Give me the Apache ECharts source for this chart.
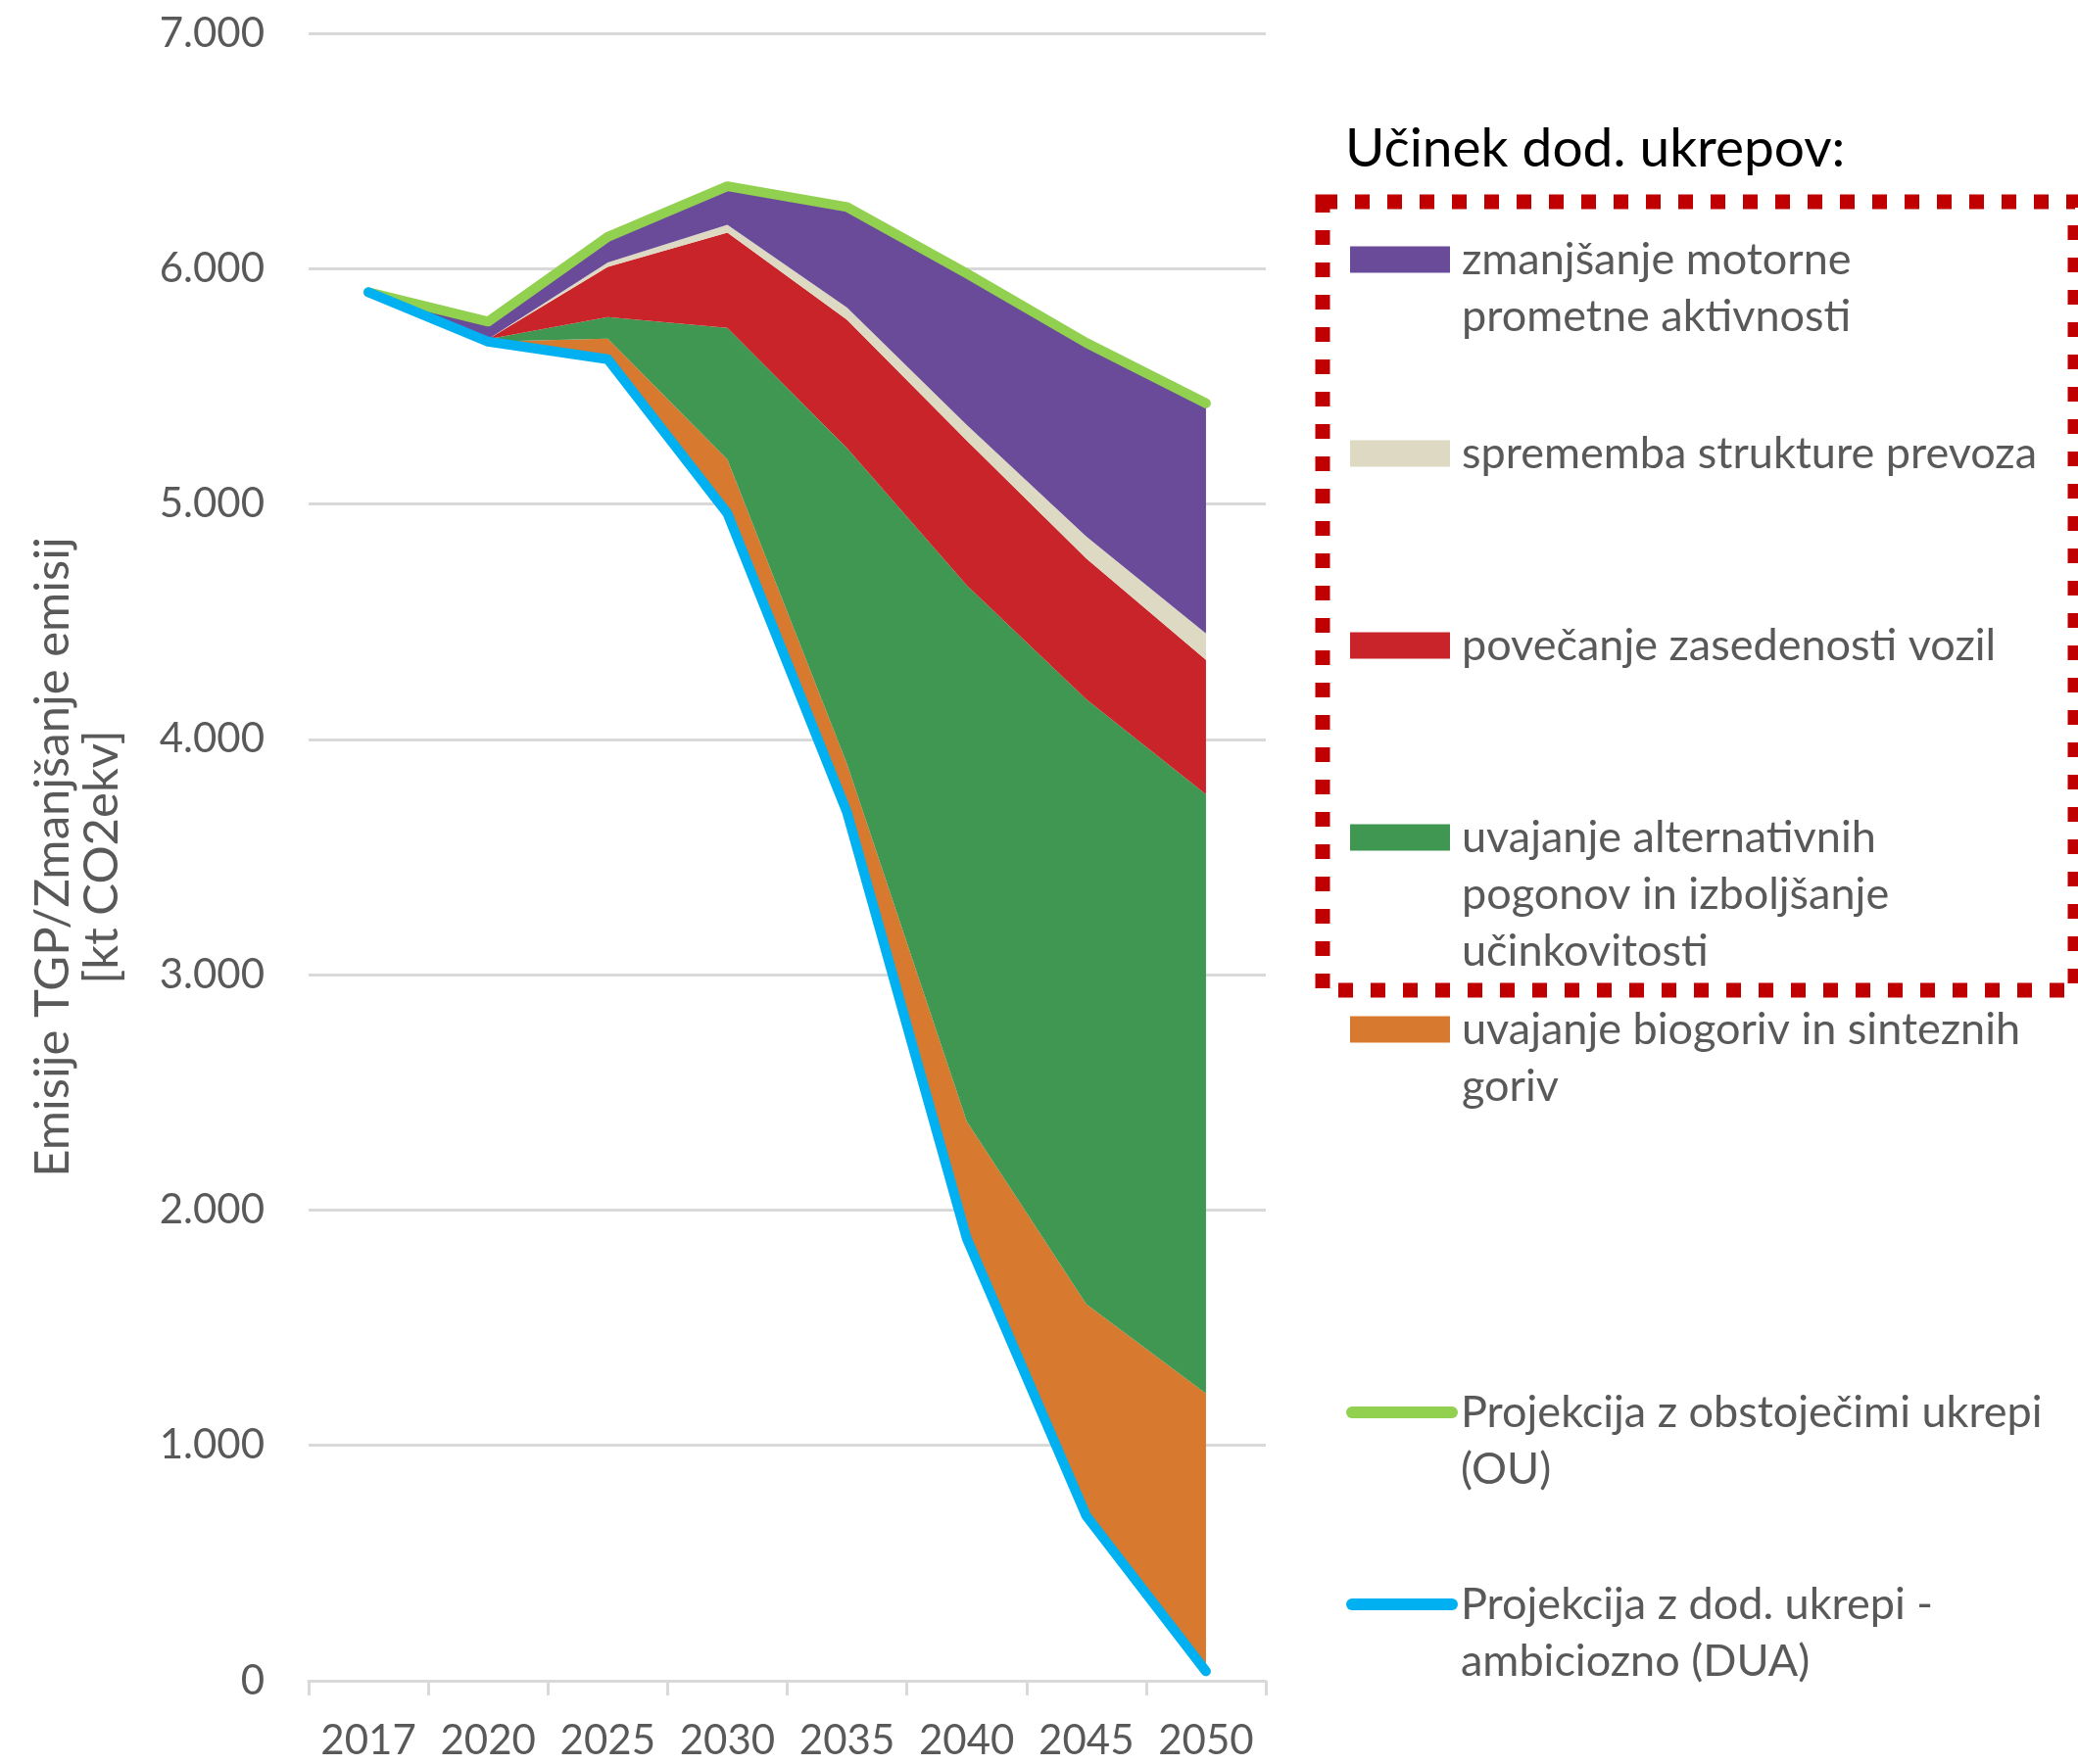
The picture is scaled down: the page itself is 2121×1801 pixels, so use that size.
<!DOCTYPE html>
<html>
<head>
<meta charset="utf-8">
<script src="https://cdn.jsdelivr.net/npm/echarts@6/dist/echarts.min.js"></script>
<style>
html,body{margin:0;padding:0;background:#fff;}
#chart{width:2121px;height:1801px;}
</style>
</head>
<body>
<div id="chart"></div>
<script>
// ---- data (kt CO2ekv) ----
const years = ['2017', '2020', '2025', '2030', '2035', '2040', '2045', '2050'];
// projection with additional measures - ambitious (DUA); also the base of the stacked effects
const dua = [5900, 5690, 5615, 4960, 3690, 1880, 700, 40];
// projection with existing measures (OU)
const ou = [5900, 5775, 6135, 6350, 6262, 5980, 5685, 5428];
// effects of additional measures (stacked on top of DUA)
const biogoriva = [0, 0, 88, 230, 205, 497, 900, 1180];
const alternativni = [0, 10, 91, 558, 1343, 2278, 2570, 2546];
const zasedenost = [0, 0, 213, 405, 545, 615, 598, 572];
const struktura = [0, 0, 19, 33, 52, 66, 94, 112];
const aktivnost = [0, 75, 109, 164, 427, 644, 823, 978];
const yTicks = [0, 1000, 2000, 3000, 4000, 5000, 6000, 7000];

const names = {
  akt: 'zmanjšanje motorne prometne aktivnosti',
  str: 'sprememba strukture prevoza',
  zas: 'povečanje zasedenosti vozil',
  alt: 'uvajanje alternativnih pogonov in izboljšanje učinkovitosti',
  bio: 'uvajanje biogoriv in sinteznih goriv',
  ou: 'Projekcija z obstoječimi ukrepi (OU)',
  dua: 'Projekcija z dod. ukrepi - ambiciozno (DUA)'
};
const legendLines = {};
legendLines[names.akt] = ['zmanjšanje motorne', 'prometne aktivnosti'];
legendLines[names.str] = ['sprememba strukture prevoza'];
legendLines[names.zas] = ['povečanje zasedenosti vozil'];
legendLines[names.alt] = ['uvajanje alternativnih', 'pogonov in izboljšanje', 'učinkovitosti'];
legendLines[names.bio] = ['uvajanje biogoriv in sinteznih', 'goriv'];
legendLines[names.ou] = ['Projekcija z obstoječimi ukrepi', '(OU)'];
legendLines[names.dua] = ['Projekcija z dod. ukrepi -', 'ambiciozno (DUA)'];

const FONT = 'Lato';
const GREY = '#595959';
const LH = 58;
const LFS = 45;

function area(name, data, color) {
  return {
    name: name, type: 'line', stack: 'eff', data: data,
    symbol: 'none', color: color,
    itemStyle: {color: color},
    lineStyle: {width: 0, color: color},
    areaStyle: {color: color, opacity: 1},
    silent: true, z: 2
  };
}

// legend text is centred on the icon; pad with empty lines above so the first line sits at the icon
function legendFor(name, centerY, isLine) {
  const lines = legendLines[name];
  const n = lines.length;
  const h = LH * (2 * n - 1);
  return {
    data: [isLine ? {name: name} : {name: name, icon: 'rect'}],
    left: isLine ? 1374 : 1378,
    top: centerY - h / 2,
    orient: 'vertical',
    padding: 0,
    selectedMode: false,
    itemWidth: 102,
    itemHeight: isLine ? 12 : 27,
    lineStyle: isLine ? {width: 12, cap: 'round'} : undefined,
    formatter: function (nm) {
      const l = legendLines[nm];
      return new Array(l.length - 1).fill(' ').concat(l).join('\n');
    },
    textStyle: {
      fontFamily: FONT, fontSize: LFS, color: GREY, lineHeight: LH,
      padding: [0, 0, 0, isLine ? 4 : 7]
    }
  };
}

const chart = echarts.init(document.getElementById('chart'), null, {renderer: 'canvas'});
chart.setOption({
  animation: false,
  backgroundColor: '#ffffff',
  textStyle: {fontFamily: FONT},
  title: {
    text: 'Učinek dod. ukrepov:',
    left: 1373, top: 119,
    padding: 0,
    textStyle: {fontFamily: FONT, fontSize: 55, fontWeight: 'normal', color: '#000000', lineHeight: 66}
  },
  grid: {left: 315, right: 829, top: 34, bottom: 85, containLabel: false},
  xAxis: {
    type: 'category', data: years, boundaryGap: true,
    axisLine: {lineStyle: {color: '#D9D9D9', width: 3}},
    axisTick: {show: true, interval: 0, length: 15, lineStyle: {color: '#D9D9D9', width: 3}},
    axisLabel: {interval: 0, fontFamily: FONT, fontSize: 42, color: GREY, margin: 40}
  },
  yAxis: {
    type: 'value', min: yTicks[0], max: yTicks[yTicks.length - 1], interval: 1000,
    name: 'Emisije TGP/Zmanjšanje emisij\n[kt CO2ekv]',
    nameLocation: 'middle', nameGap: 186,
    nameTextStyle: {fontFamily: FONT, fontSize: 49, color: GREY, lineHeight: 50},
    axisLine: {show: false}, axisTick: {show: false},
    splitLine: {lineStyle: {color: '#D9D9D9', width: 3}},
    axisLabel: {
      fontFamily: FONT, fontSize: 42, color: GREY, margin: 45,
      formatter: function (v) { return v === 0 ? '0' : String(v).replace(/\B(?=(\d{3})+(?!\d))/g, '.'); }
    }
  },
  legend: [
    legendFor(names.akt, 265, false),
    legendFor(names.str, 463, false),
    legendFor(names.zas, 659, false),
    legendFor(names.alt, 855, false),
    legendFor(names.bio, 1051, false),
    legendFor(names.ou, 1442, true),
    legendFor(names.dua, 1638, true)
  ],
  graphic: [{
    type: 'rect', z: 100,
    shape: {x: 1350, y: 206, width: 768, height: 805},
    style: {fill: 'none', stroke: '#C00000', lineWidth: 15, lineDash: [15, 18]}
  }],
  series: [
    {name: 'base', type: 'line', stack: 'eff', data: dua, symbol: 'none',
     lineStyle: {width: 0, opacity: 0}, silent: true, z: 1},
    area(names.bio, biogoriva, '#D77A2F'),
    area(names.alt, alternativni, '#3F9751'),
    area(names.zas, zasedenost, '#C9242A'),
    area(names.str, struktura, '#DDD9C3'),
    area(names.akt, aktivnost, '#6A4B9A'),
    {name: names.ou, type: 'line', data: ou, symbol: 'none', color: '#92D050',
     lineStyle: {width: 10, color: '#92D050', cap: 'round', join: 'round'}, z: 5, silent: true},
    {name: names.dua, type: 'line', data: dua, symbol: 'none', color: '#00B0F0',
     lineStyle: {width: 10, color: '#00B0F0', cap: 'round', join: 'round'}, z: 6, silent: true}
  ]
});
</script>
</body>
</html>
